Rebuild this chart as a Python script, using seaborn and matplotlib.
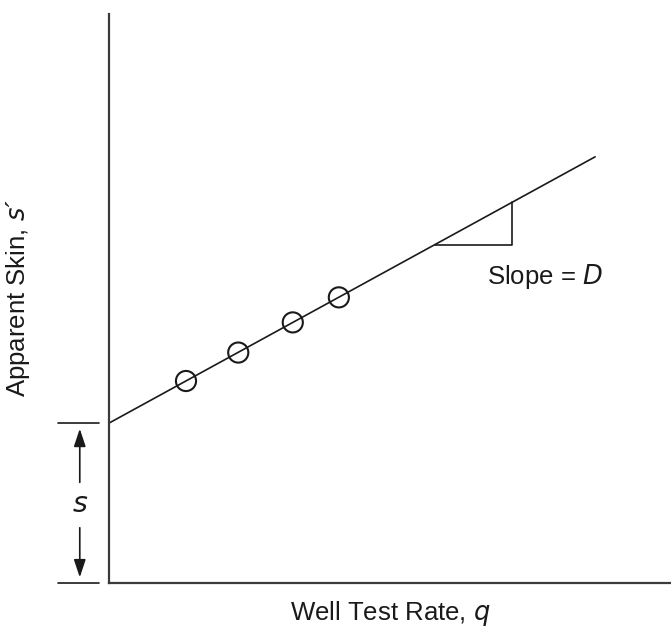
import matplotlib
matplotlib.use("Agg")
import matplotlib.pyplot as plt
import seaborn as sns
import pandas as pd
import numpy as np

sns.set_theme(style="white")
plt.rcParams['font.family'] = ['Liberation Sans Narrow', 'Liberation Sans', 'DejaVu Sans']

# Data (arbitrary units)
line_x = [0.0, 8.65]
line_y = [2.81, 7.49]
point_x = [1.37, 2.30, 3.27, 4.09]
point_y = [3.55, 4.05, 4.58, 5.02]
tri_x = [5.80, 7.17, 7.17]
tri_y = [5.94, 5.94, 6.69]
skin_s = 2.81

fig = plt.figure(figsize=(6.71, 6.41), dpi=100)
ax = fig.add_axes([109/671, 1-583/641, 1-109/671, (583-14)/641])

ink = "#1a1a1a"
sns.lineplot(x=line_x, y=line_y, ax=ax, color=ink, linewidth=1.2)
sns.scatterplot(x=point_x, y=point_y, ax=ax, s=210, facecolor="none",
                edgecolor=ink, linewidth=1.5, zorder=3)
ax.plot(tri_x, tri_y, color=ink, linewidth=1.2)

ax.set_xlim(0, 10)
ax.set_ylim(0, 10)
ax.set_xticks([])
ax.set_yticks([])
for side in ["top", "right"]:
    ax.spines[side].set_visible(False)
for side in ["left", "bottom"]:
    ax.spines[side].set_color("#3a3a3a")
    ax.spines[side].set_linewidth(1.6)

fs = 18.5
ax.text(6.73, 5.38, "Slope = $\\it{D}$", fontsize=fs, color=ink, ha="left", va="center")

# s bracket
for yy in [0.0, skin_s]:
    ax.plot([-0.91, -0.18], [yy, yy], color=ink, linewidth=1.2, clip_on=False)
ax.annotate("", xy=(-0.52, skin_s - 0.05), xytext=(-0.52, 1.72),
            arrowprops=dict(arrowstyle="-|>,head_length=0.9,head_width=0.3", color=ink, lw=1.2),
            annotation_clip=False)
ax.annotate("", xy=(-0.52, 0.05), xytext=(-0.52, 1.02),
            arrowprops=dict(arrowstyle="-|>,head_length=0.9,head_width=0.3", color=ink, lw=1.2),
            annotation_clip=False)
ax.text(-0.52, 1.37, "$\\it{s}$", fontsize=fs + 2, color=ink, ha="center", va="center",
        clip_on=False)

ax.set_xlabel("Well Test Rate, $\\it{q}$", fontsize=fs, color=ink)
ax.set_ylabel("Apparent Skin, $\\it{s}$\u00b4", fontsize=fs, color=ink)
ax.xaxis.set_label_coords(0.5, -0.028)
ax.yaxis.set_label_coords(-0.137, 0.5)

fig.savefig("out.png", dpi=100)
